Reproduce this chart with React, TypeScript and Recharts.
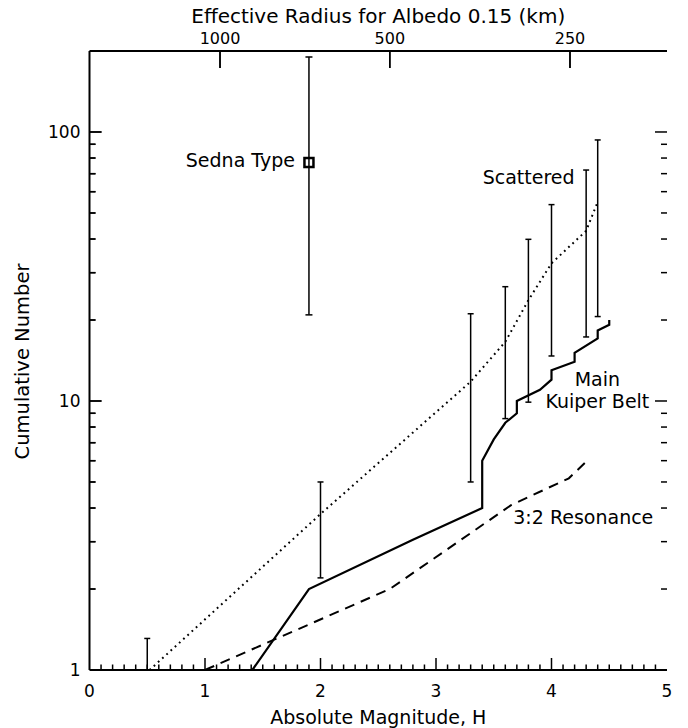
import React from 'react';
import { ComposedChart, Line, Scatter, XAxis, YAxis, ErrorBar, ReferenceDot, ReferenceLine, Label } from 'recharts';

const FONT = '"DejaVu Sans", "Liberation Sans", sans-serif';
const INK = '#000000';

// ---- Data: absolute magnitude H (x) vs cumulative number N (y) ----
const mainBeltH = [1.41, 1.9, 2.8, 3.4, 3.4, 3.5, 3.6, 3.7, 3.7, 3.9, 4.0, 4.0, 4.2, 4.2, 4.4, 4.4, 4.5, 4.5];
const mainBeltN = [1.0, 2.0, 3.05, 4.0, 6.0, 7.2, 8.3, 9.0, 10.0, 11.0, 12.0, 13.0, 14.0, 15.1, 17.1, 18.3, 19.2, 20.0];

const resonanceH = [1.0, 2.6, 3.65, 4.15, 4.3];
const resonanceN = [1.0, 2.0, 4.1, 5.16, 5.95];

const scatteredLineH = [0.52, 2.0, 3.3, 3.6, 3.8, 4.0, 4.3, 4.4];
const scatteredLineN = [1.0, 3.8, 11.8, 16.6, 23.7, 32.5, 42.9, 55.0];

const scatteredBarH = [0.5, 2.0, 3.3, 3.6, 3.8, 4.0, 4.3, 4.4];
const scatteredBarMid = [1.0, 3.8, 11.8, 16.6, 23.7, 32.5, 42.9, 55.0];
const scatteredBarLow = [1.0, 2.2, 5.0, 8.6, 9.9, 14.7, 17.3, 20.6];
const scatteredBarHigh = [1.31, 5.0, 21.1, 26.6, 39.9, 53.7, 72.2, 93.4];

const sednaH = [1.9];
const sednaN = [77];
const sednaLow = [20.9];
const sednaHigh = [190];

// ---- Axis ticks & labels ----
const xMajorTicks = [0, 1, 2, 3, 4, 5];
const xMajorLabels = ['0', '1', '2', '3', '4', '5'];
const yMajorTicks = [1, 10, 100];
const yMajorLabels = ['1', '10', '100'];
const radiusTickH = [1.13, 2.6, 4.16];
const radiusTickLabels = ['1000', '500', '250'];

const annotations = [
  { text: 'Sedna Type', h: 1.779, n: 73.9, anchor: 'end' },
  { text: 'Scattered', h: 3.404, n: 64.2, anchor: 'start' },
  { text: 'Main', h: 4.397, n: 11.39, anchor: 'middle' },
  { text: 'Kuiper Belt', h: 4.397, n: 9.45, anchor: 'middle' },
  { text: '3:2 Resonance', h: 3.669, n: 3.48, anchor: 'start' },
];

// ---- Layout ----
const W = 688;
const H = 728;
const MARGIN = { top: 21, right: 21, bottom: 28, left: 29.5 };
const LEFT_AXIS_W = 60;
const X_AXIS_H = 30;
const PLOT_W = W - MARGIN.left - MARGIN.right - LEFT_AXIS_W;
const PLOT_H = H - MARGIN.top - MARGIN.bottom - 2 * X_AXIS_H;
const X_MIN = 0;
const X_MAX = 5;
const Y_MIN = 1;
const Y_MAX = 200;
const PX_PER_DECADE = PLOT_H / Math.log10(Y_MAX / Y_MIN);
const PX_PER_MAG = PLOT_W / (X_MAX - X_MIN);

const MAJOR_LEN = 12;
const MINOR_LEN = 6;
const TOP_LEN = 17;

// ---- Derived tables ----
const zip = (xs: number[], ys: number[]) => xs.map((x, i) => ({ x, y: ys[i] }));
const mainData = zip(mainBeltH, mainBeltN);
const resonanceData = zip(resonanceH, resonanceN);
const scatteredLine = zip(scatteredLineH, scatteredLineN);
const scatteredBars = scatteredBarH.map((x, i) => ({
  x,
  y: scatteredBarMid[i],
  err: [scatteredBarMid[i] - scatteredBarLow[i], scatteredBarHigh[i] - scatteredBarMid[i]],
}));
const sednaData = sednaH.map((x, i) => ({
  x,
  y: sednaN[i],
  err: [sednaN[i] - sednaLow[i], sednaHigh[i] - sednaN[i]],
}));

const xTicks: number[] = [];
for (let i = 0; i <= 50; i++) xTicks.push(i / 10);
const yTicks: number[] = [];
[1, 10, 100].forEach((d) => {
  for (let k = 1; k <= 9; k++) yTicks.push(d * k);
});
const innerYTicks = yTicks.filter((v) => v > Y_MIN && v < Y_MAX);

const isMajor = (v: number, majors: number[]) => majors.some((m) => Math.abs(m - v) < 1e-6);

const xIn = (px: number) => px / PX_PER_MAG;
const yUp = (px: number) => Math.pow(10, px / PX_PER_DECADE);

// bottom & right tick marks as reference segments
type Seg = { key: string; seg: { x: number; y: number }[] };
const tickSegments: Seg[] = [];
xTicks.forEach((v) => {
  if (v <= X_MIN || v >= X_MAX) return;
  const len = isMajor(v, xMajorTicks) ? MAJOR_LEN : MINOR_LEN - 0.5;
  tickSegments.push({ key: `b${v}`, seg: [{ x: v, y: Y_MIN }, { x: v, y: Y_MIN * yUp(len) }] });
});
innerYTicks.forEach((v) => {
  const len = isMajor(v, yMajorTicks) ? MAJOR_LEN : MINOR_LEN;
  tickSegments.push({ key: `r${v}`, seg: [{ x: X_MAX, y: v }, { x: X_MAX - xIn(len), y: v }] });
});

// left & top tick marks, declared last
const edgeSegments: Seg[] = [];
innerYTicks.forEach((v) => {
  const len = isMajor(v, yMajorTicks) ? MAJOR_LEN : MINOR_LEN;
  edgeSegments.push({ key: `edgeL-${v}`, seg: [{ x: X_MIN, y: v }, { x: X_MIN + xIn(len), y: v }] });
});
radiusTickH.forEach((h) => {
  edgeSegments.push({ key: `edgeT-${h}`, seg: [{ x: h, y: Y_MAX }, { x: h, y: Y_MAX / yUp(TOP_LEN) }] });
});

// same marks as one path anchored at an interior reference point
const ANCHOR_H = 2.5;
const ANCHOR_N = 10;
const LeftTopTicks = (p: any) => {
  const { cx, cy } = p;
  if (cx == null || cy == null) return <g />;
  const xOf = (h: number) => cx + (h - ANCHOR_H) * PX_PER_MAG;
  const yOf = (n: number) => cy - Math.log10(n / ANCHOR_N) * PX_PER_DECADE;
  const x0 = xOf(X_MIN);
  const yTop = yOf(Y_MAX);
  let d = '';
  innerYTicks.forEach((v) => {
    const len = isMajor(v, yMajorTicks) ? MAJOR_LEN : MINOR_LEN;
    const y = yOf(v);
    d += `M${x0},${y}L${x0 + len},${y}`;
  });
  radiusTickH.forEach((h) => {
    const x = xOf(h);
    d += `M${x},${yTop}L${x},${yTop + TOP_LEN}`;
  });
  return <path d={d} stroke={INK} strokeWidth={1.5} fill="none" />;
};

const BottomTick = (props: any) => {
  const { x, y, payload } = props;
  const idx = xMajorTicks.findIndex((m) => Math.abs(m - payload.value) < 1e-6);
  if (idx < 0) return <g />;
  return (
    <text x={x} y={y + 27} textAnchor="middle" fontSize={17} fontFamily={FONT} fill={INK}>
      {xMajorLabels[idx]}
    </text>
  );
};

const TopTick = (props: any) => {
  const { x, y, payload } = props;
  const idx = radiusTickH.findIndex((m) => Math.abs(m - payload.value) < 1e-6);
  return (
    <text x={x} y={y - 7} textAnchor="middle" fontSize={16} fontFamily={FONT} fill={INK}>
      {idx >= 0 ? radiusTickLabels[idx] : ''}
    </text>
  );
};

const LeftTick = (props: any) => {
  const { x, y, payload } = props;
  const idx = yMajorTicks.findIndex((m) => Math.abs(m - payload.value) < 1e-6);
  if (idx < 0) return <g />;
  return (
    <text x={x - 9} y={y + 6} textAnchor="end" fontSize={17} fontFamily={FONT} fill={INK}>
      {yMajorLabels[idx]}
    </text>
  );
};

const EmptyTick = () => <g />;

const BottomTitle = (props: any) => {
  const vb = props.viewBox || {};
  return (
    <text x={vb.x + vb.width / 2} y={vb.y + 54} textAnchor="middle" fontSize={19} fontFamily={FONT} fill={INK}>
      Absolute Magnitude, H
    </text>
  );
};

const TopTitle = (props: any) => {
  const vb = props.viewBox || {};
  return (
    <text x={vb.x + vb.width / 2} y={vb.y + 1.7} textAnchor="middle" fontSize={20} fontFamily={FONT} fill={INK}>
      Effective Radius for Albedo 0.15 (km)
    </text>
  );
};

const LeftTitle = (props: any) => {
  const vb = props.viewBox || {};
  const cx = vb.x - 0.5;
  const cy = vb.y + vb.height / 2 + 1;
  return (
    <text x={cx} y={cy} transform={`rotate(-90, ${cx}, ${cy})`} textAnchor="middle" fontSize={19.5} fontFamily={FONT} fill={INK}>
      Cumulative Number
    </text>
  );
};

const SednaMarker = (props: any) => {
  const { cx, cy } = props;
  return <rect x={cx - 4.5} y={cy - 4.5} width={9} height={9} fill="none" stroke={INK} strokeWidth={2.5} />;
};

const NoMarker = () => <g />;

const axisLineStyle = { stroke: INK, strokeWidth: 2 };

export default function App() {
  return (
    <div style={{ width: W, height: H, margin: '-8px 0 0 -8px', background: '#fff' }}>
      <ComposedChart width={W} height={H} margin={MARGIN}>
        <XAxis
          dataKey="x"
          type="number"
          domain={[X_MIN, X_MAX]}
          allowDataOverflow
          ticks={xTicks}
          interval={0}
          tickSize={0}
          tickMargin={0}
          tickLine={false}
          tick={BottomTick}
          axisLine={axisLineStyle}
          height={X_AXIS_H}
          orientation="bottom"
        >
          <Label content={BottomTitle} />
        </XAxis>
        <XAxis
          xAxisId="top"
          dataKey="x"
          type="number"
          domain={[X_MIN, X_MAX]}
          allowDataOverflow
          ticks={radiusTickH}
          interval={0}
          tickSize={0}
          tickMargin={0}
          tickLine={false}
          tick={TopTick}
          axisLine={axisLineStyle}
          height={X_AXIS_H}
          orientation="top"
        >
          <Label content={TopTitle} />
        </XAxis>
        <YAxis
          dataKey="y"
          type="number"
          scale="log"
          domain={[Y_MIN, Y_MAX]}
          allowDataOverflow
          ticks={yTicks}
          interval={0}
          tickSize={0}
          tickMargin={0}
          tickLine={false}
          tick={LeftTick}
          axisLine={axisLineStyle}
          width={LEFT_AXIS_W}
          orientation="left"
        >
          <Label content={LeftTitle} />
        </YAxis>
        <YAxis
          yAxisId="right"
          type="number"
          scale="log"
          domain={[Y_MIN, Y_MAX]}
          allowDataOverflow
          ticks={yTicks}
          interval={0}
          tickSize={0}
          tickMargin={0}
          tickLine={false}
          tick={EmptyTick}
          axisLine={axisLineStyle}
          width={0}
          orientation="right"
        />

        {tickSegments.map((t) => (
          <ReferenceLine key={t.key} segment={t.seg} stroke={INK} strokeWidth={1.5} ifOverflow="visible" />
        ))}

        <Line
          data={scatteredLine}
          dataKey="y"
          type="linear"
          stroke={INK}
          strokeWidth={2}
          strokeDasharray="1.8 3.9"
          dot={false}
          activeDot={false}
          isAnimationActive={false}
        />
        <Line
          data={resonanceData}
          dataKey="y"
          type="linear"
          stroke={INK}
          strokeWidth={2}
          strokeDasharray="10 7"
          dot={false}
          activeDot={false}
          isAnimationActive={false}
        />
        <Line
          data={mainData}
          dataKey="y"
          type="linear"
          stroke={INK}
          strokeWidth={2.2}
          dot={false}
          activeDot={false}
          isAnimationActive={false}
        />
        <Scatter data={scatteredBars} dataKey="y" shape={NoMarker} isAnimationActive={false}>
          <ErrorBar dataKey="err" direction="y" width={3} stroke={INK} strokeWidth={1.5} isAnimationActive={false} />
        </Scatter>
        <Scatter data={sednaData} dataKey="y" shape={SednaMarker} isAnimationActive={false}>
          <ErrorBar dataKey="err" direction="y" width={3.5} stroke={INK} strokeWidth={1.5} isAnimationActive={false} />
        </Scatter>

        {annotations.map((a) => (
          <ReferenceDot
            key={a.text}
            x={a.h}
            y={a.n}
            r={0}
            ifOverflow="visible"
            shape={(p: any) => (
              <text x={p.cx} y={p.cy} textAnchor={a.anchor as any} fontSize={19} fontFamily={FONT} fill={INK}>
                {a.text}
              </text>
            )}
          />
        ))}

        <ReferenceDot x={ANCHOR_H} y={ANCHOR_N} r={0} ifOverflow="visible" shape={LeftTopTicks} />
        {edgeSegments.map((t) => (
          <ReferenceLine key={t.key} segment={t.seg} stroke={INK} strokeWidth={1.5} ifOverflow="visible" />
        ))}
      </ComposedChart>
    </div>
  );
}
